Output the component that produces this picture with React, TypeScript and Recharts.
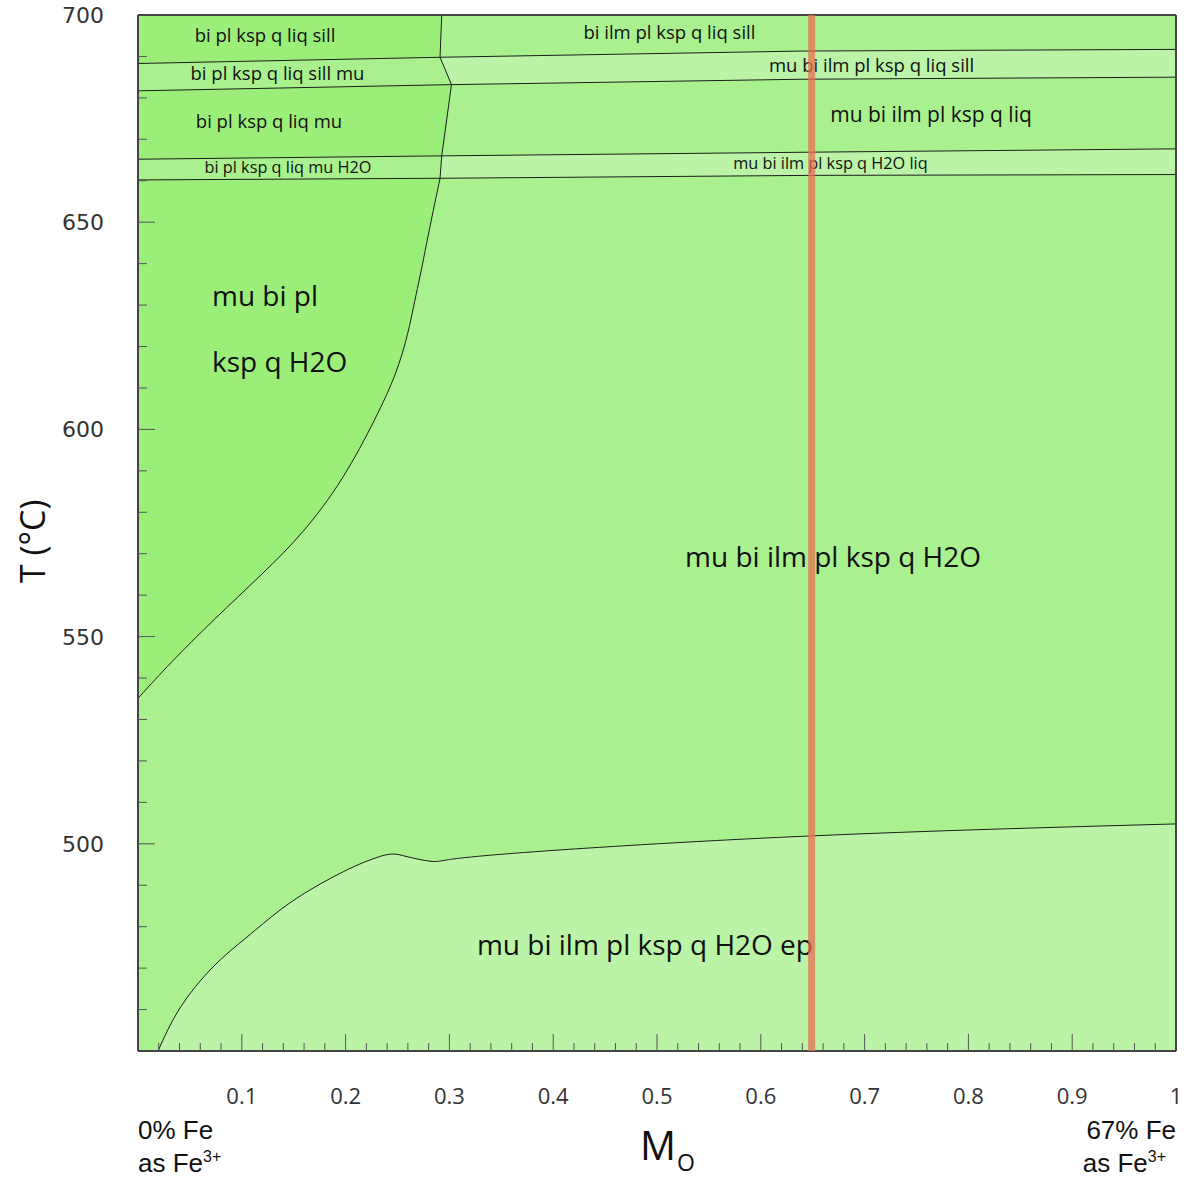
import React from 'react';
import {
  ComposedChart,
  Area,
  Line,
  XAxis,
  YAxis,
  CartesianGrid,
  ReferenceLine,
  ReferenceDot,
  Label,
} from 'recharts';

// ---- Phase-field boundaries, [M_O, T(°C)] ----
const lineA = [[0, 688.3], [0.291, 689.8], [0.64, 691.3], [1, 691.7]];
const lineB = [[0, 681.7], [0.302, 683.2], [0.64, 684.5], [1, 685.0]];
const lineC = [[0, 665.2], [0.29, 666.0], [0.65, 666.9], [1, 667.7]];
const lineD = [[0, 660.2], [0.29, 660.6], [0.65, 661.3], [1, 661.5]];
const ilmBoundary = [[0.2926, 700], [0.291, 689.8], [0.302, 683.2], [0.2926, 666.0], [0.291, 660.6]];
const ilmCurve = [
  [0, 535.1], [0.0308, 543.6], [0.0725, 554], [0.1207, 565.3], [0.1592, 574.9], [0.1978, 587.8],
  [0.23, 603.1], [0.2492, 613.5], [0.2604, 623.2], [0.2667, 631.2], [0.2717, 636.8],
  [0.2781, 645], [0.2845, 652.9], [0.291, 660.6],
];
const epCurve = [
  [0.0193, 450], [0.0405, 460.4], [0.0723, 470.3], [0.105, 477.5], [0.1368, 484], [0.1686, 489.3],
  [0.2013, 493.7], [0.2235, 496.1], [0.2428, 497.5], [0.2592, 496.9], [0.2813, 495.8],
  [0.2977, 496.1], [0.3776, 498], [0.648, 501.9], [1, 504.8],
];
const sectionX = 0.649;

// ---- Field labels ----
const fieldLabels = [
  { text: 'bi pl ksp q liq sill', x: 0.1224, t: 693.6, size: 18.5, anchor: 'middle' },
  { text: 'bi pl ksp q liq sill mu', x: 0.1344, t: 684.4, size: 18.5, anchor: 'middle' },
  { text: 'bi pl ksp q liq mu', x: 0.1262, t: 672.7, size: 18.5, anchor: 'middle' },
  { text: 'bi pl ksp q liq mu H2O', x: 0.1445, t: 661.8, size: 16.3, anchor: 'middle' },
  { text: 'bi ilm pl ksp q liq sill', x: 0.512, t: 694.3, size: 18.5, anchor: 'middle' },
  { text: 'mu bi ilm pl ksp q liq sill', x: 0.7067, t: 686.2, size: 18.5, anchor: 'middle' },
  { text: 'mu bi ilm pl ksp q liq', x: 0.764, t: 674.3, size: 21, anchor: 'middle' },
  { text: 'mu bi ilm pl ksp q H2O liq', x: 0.6671, t: 662.8, size: 16.3, anchor: 'middle' },
  { text: 'mu bi pl', x: 0.0713, t: 629.8, size: 28, anchor: 'start' },
  { text: 'ksp q H2O', x: 0.0713, t: 613.9, size: 28, anchor: 'start' },
  { text: 'mu bi ilm pl ksp q H2O', x: 0.6696, t: 566.8, size: 28, anchor: 'middle' },
  { text: 'mu bi ilm pl ksp q H2O ep', x: 0.4884, t: 473.2, size: 28, anchor: 'middle' },
];

// ---- Axes ----
const xMinorTicks = Array.from({ length: 51 }, (_, i) => Number((i * 0.02).toFixed(2)));
const xTickLabels = ['0.1', '0.2', '0.3', '0.4', '0.5', '0.6', '0.7', '0.8', '0.9', '1'];
const yMinorTicks = Array.from({ length: 26 }, (_, i) => 450 + i * 10);
const yTickLabels = ['500', '550', '600', '650', '700'];

const COLORS = {
  dark: '#9bef78',
  main: '#a9f18e',
  light: '#bbf4a6',
  line: '#1c1c1c',
  section: '#e86f50',
};
const FONT = '"Open Sans", "Noto Sans", sans-serif';
const CORNER_FONT = '"Liberation Sans", Arial, sans-serif';

const at = (poly: number[][], x: number) => {
  for (let i = 0; i < poly.length - 1; i++) {
    const [x0, y0] = poly[i];
    const [x1, y1] = poly[i + 1];
    if (x >= x0 && x <= x1) return y0 + ((y1 - y0) * (x - x0)) / (x1 - x0);
  }
  return x < poly[0][0] ? poly[0][1] : poly[poly.length - 1][1];
};

const toLine = (poly: number[][]) => poly.map(([x, t]) => ({ x, t }));
const xs = (...polys: number[][][]) =>
  Array.from(new Set(polys.flatMap((p) => p.map((q) => q[0])))).sort((a, b) => a - b);

const [bx0, by0] = ilmBoundary[0];
const [bx1] = ilmBoundary[1];
const [bx2, by2] = ilmBoundary[2];
const [bx3] = ilmBoundary[3];
const [bx4] = ilmBoundary[4];

const darkTop = [
  { x: 0, r: [at(lineA, 0), by0] },
  { x: bx1, r: [at(lineA, bx1), by0] },
  { x: bx0, r: [by0, by0] },
];
const lightAB = xs(lineA, lineB).map((x) => ({ x, r: [at(lineB, x), at(lineA, x)] }));
const mainABLeft = [
  { x: 0, r: [at(lineB, 0), at(lineA, 0)] },
  { x: bx1, r: [at(lineB, bx1), at(lineA, bx1)] },
  { x: bx2, r: [by2, by2] },
];
const darkBCLeft = [
  { x: 0, r: [at(lineC, 0), at(lineB, 0)] },
  { x: bx3, r: [at(lineC, bx3), at(lineB, bx3)] },
  { x: bx2, r: [by2, by2] },
];
const lightCD = xs(lineC, lineD).map((x) => ({ x, r: [at(lineD, x), at(lineC, x)] }));
const mainCDLeft = [
  { x: 0, r: [at(lineD, 0), at(lineC, 0)] },
  { x: bx4, r: [at(lineD, bx4), at(lineC, bx4)] },
  { x: bx3, r: [at(lineC, bx3), at(lineC, bx3)] },
];
const darkLower = ilmCurve.map(([x, t]) => ({ x, r: [t, at(lineD, x)] }));
const lightBottom = epCurve.map(([x, t]) => ({ x, r: [450, t] }));

const XTick = (props: any) => {
  const { x, y, payload } = props;
  const v = payload.value as number;
  const major = Math.abs(v * 10 - Math.round(v * 10)) < 1e-6;
  const label = xTickLabels.find((l) => Math.abs(Number(l) - v) < 1e-6);
  return (
    <g>
      {v > 0 && v < 1 && (
        <line x1={x} x2={x} y1={y} y2={y - (major ? 17 : 8)} stroke="#555" strokeWidth={1} />
      )}
      {label && (
        <text x={x} y={y + 53} textAnchor="middle" fontFamily={FONT} fontSize={22} fill="#333">
          {label}
        </text>
      )}
    </g>
  );
};

const YTick = (props: any) => {
  const { x, y, payload } = props;
  const v = payload.value as number;
  const major = v % 50 === 0;
  const label = yTickLabels.find((l) => Number(l) === v);
  return (
    <g>
      {v > 450 && v < 700 && (
        <line x1={x} x2={x + (major ? 17 : 9)} y1={y} y2={y} stroke="#555" strokeWidth={1} />
      )}
      {label && (
        <text x={x - 34} y={y} dy="0.36em" textAnchor="end" fontFamily='"DejaVu Sans", sans-serif' fontSize={22} fill="#333">
          {label}
        </text>
      )}
    </g>
  );
};

const YTitle = (props: any) => {
  const vb = props.viewBox || { x: 0, y: 15, width: 138, height: 1036 };
  const cx = vb.x + 32;
  const cy = vb.y + vb.height * 0.508;
  return (
    <text x={cx} y={cy} transform={`rotate(-90, ${cx}, ${cy})`} textAnchor="middle" dominantBaseline="central" fontFamily={FONT} fontSize={34} fill="#111">
      T (°C)
    </text>
  );
};

const XTitle = (props: any) => {
  const vb = props.viewBox || { x: 138, y: 1051, width: 1038, height: 127 };
  const right = vb.x + vb.width;
  return (
    <g fill="#111">
      <text x={vb.x + 502} y={vb.y + 109} fontFamily={FONT} fontSize={40}>
        M<tspan fontSize={23} dy={11} dx={1}>O</tspan>
      </text>
      <text x={vb.x} y={vb.y + 88} fontFamily={CORNER_FONT} fontSize={26}>0% Fe</text>
      <text x={vb.x} y={vb.y + 121} fontFamily={CORNER_FONT} fontSize={26}>
        as Fe<tspan fontSize={16} dy={-10}>3+</tspan>
      </text>
      <text x={right} y={vb.y + 88} fontFamily={CORNER_FONT} fontSize={26} textAnchor="end">67% Fe</text>
      <text x={right - 10} y={vb.y + 121} fontFamily={CORNER_FONT} fontSize={26} textAnchor="end">
        as Fe<tspan fontSize={16} dy={-10}>3+</tspan>
      </text>
    </g>
  );
};

const areaProps = {
  dataKey: 'r',
  stroke: 'none',
  fillOpacity: 1,
  isAnimationActive: false,
  dot: false,
  activeDot: false,
} as const;

const lineProps = {
  dataKey: 't',
  stroke: COLORS.line,
  strokeWidth: 1,
  isAnimationActive: false,
  dot: false,
  activeDot: false,
} as const;

export default function App() {
  return (
    <div style={{ position: 'absolute', left: 0, top: 0, width: 1189, height: 1178, background: '#fff' }}>
      <ComposedChart width={1189} height={1178} margin={{ top: 14, right: 12, bottom: 0, left: 0 }}>
        <CartesianGrid horizontal={false} vertical={false} fill={COLORS.main} stroke="none" />
        <XAxis
          xAxisId={0}
          type="number"
          dataKey="x"
          domain={[0, 1]}
          allowDataOverflow
          ticks={xMinorTicks}
          interval={0}
          tickSize={0}
          tickMargin={0}
          tickLine={false}
          tick={<XTick />}
          axisLine={{ stroke: '#444', strokeWidth: 2 }}
          height={127}
        >
          <Label content={<XTitle />} />
        </XAxis>
        <XAxis xAxisId="top" orientation="top" type="number" domain={[0, 1]} tick={false} tickLine={false} height={1} axisLine={{ stroke: '#444', strokeWidth: 2 }} />
        <YAxis
          yAxisId={0}
          type="number"
          domain={[450, 700]}
          allowDataOverflow
          ticks={yMinorTicks}
          interval={0}
          tickSize={0}
          tickMargin={0}
          tickLine={false}
          tick={<YTick />}
          axisLine={{ stroke: '#444', strokeWidth: 2 }}
          width={138}
        >
          <Label content={<YTitle />} />
        </YAxis>
        <YAxis yAxisId="right" orientation="right" type="number" domain={[450, 700]} tick={false} tickLine={false} width={1} axisLine={{ stroke: '#444', strokeWidth: 2 }} />

        <Area {...areaProps} data={lightAB} type="linear" fill={COLORS.light} />
        <Area {...areaProps} data={lightCD} type="linear" fill={COLORS.light} />
        <Area {...areaProps} data={darkTop} type="linear" fill={COLORS.dark} />
        <Area {...areaProps} data={mainABLeft} type="linear" fill={COLORS.main} />
        <Area {...areaProps} data={darkBCLeft} type="linear" fill={COLORS.dark} />
        <Area {...areaProps} data={mainCDLeft} type="linear" fill={COLORS.main} />
        <Area {...areaProps} data={darkLower} type="basis" fill={COLORS.dark} />
        <Area {...areaProps} data={lightBottom} type="natural" fill={COLORS.light} />

        <Line {...lineProps} data={toLine(lineA)} type="linear" />
        <Line {...lineProps} data={toLine(lineB)} type="linear" />
        <Line {...lineProps} data={toLine(lineC)} type="linear" />
        <Line {...lineProps} data={toLine(lineD)} type="linear" />
        <Line {...lineProps} data={toLine(ilmBoundary)} type="linear" />
        <Line {...lineProps} data={toLine(ilmCurve)} type="basis" />
        <Line {...lineProps} data={toLine(epCurve)} type="natural" />

        {fieldLabels.map((l, i) => (
          <ReferenceDot
            key={i}
            x={l.x}
            y={l.t}
            r={0}
            ifOverflow="visible"
            shape={(p: any) => (
              <text x={p.cx} y={p.cy} textAnchor={l.anchor} fontFamily={FONT} fontSize={l.size} fill="#111">
                {l.text}
              </text>
            )}
          />
        ))}

        <ReferenceLine
          x={sectionX}
          stroke={COLORS.section}
          strokeWidth={7}
          strokeOpacity={0.75}
          ifOverflow="visible"
          {...({ zIndex: 2100 } as any)}
        />
      </ComposedChart>
    </div>
  );
}
